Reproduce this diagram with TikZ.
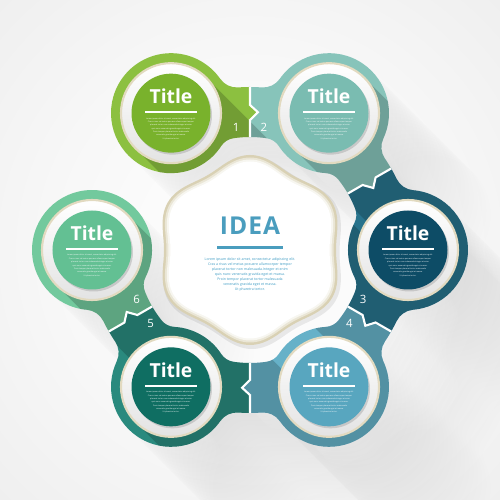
\documentclass[tikz,border=0pt]{standalone}
\usepackage{fontspec}
\setmainfont{Open Sans}
\usetikzlibrary{shadows}

\definecolor{segA}{HTML}{8CC040}
\definecolor{discA}{HTML}{79B22C}
\definecolor{segB}{HTML}{87C4BA}
\definecolor{discB}{HTML}{7ABCB1}
\definecolor{segC}{HTML}{28738C}
\definecolor{discC}{HTML}{0D4C66}
\definecolor{segD}{HTML}{66B1C8}
\definecolor{discD}{HTML}{58A6BF}
\definecolor{segE}{HTML}{2A8A7E}
\definecolor{discE}{HTML}{0F6E62}
\definecolor{segF}{HTML}{72C99D}
\definecolor{discF}{HTML}{63C093}
\definecolor{creamrim}{HTML}{E2DAC0}
\definecolor{blobrim}{HTML}{D9D1B4}
\definecolor{ideablue}{HTML}{4A9DBE}
\definecolor{textblue}{HTML}{3F9CC4}

\pgfdeclareradialshading{bgglow}{\pgfpoint{0bp}{0bp}}{color(0bp)=(white); color(20bp)=(white!97!black); color(72bp)=(white!86!black)}

\tikzstyle{ring} = [circle, minimum size=2cm, inner sep=0pt, draw=creamrim, line width=1.2pt, top color=white, bottom color=gray!22]
\tikzstyle{disc} = [circle, minimum size=1.58cm, inner sep=0pt, drop shadow={opacity=0.3, shadow xshift=0.03cm, shadow yshift=-0.04cm}]
\tikzstyle{titletext} = [text=white, font=\fontsize{11}{13}\selectfont\bfseries, inner sep=0pt]
\tikzstyle{titlerule} = [white, line width=0.8pt]
\tikzstyle{smalltext} = [text=white, align=center, font=\fontsize{1.1}{1.9}\selectfont, inner sep=0pt]
\tikzstyle{numtext} = [text=white, font=\fontsize{6.5}{7}\selectfont, inner sep=0pt]
\tikzstyle{gapline} = [white, line width=1.2pt]
\tikzstyle{longshadow} = [black, opacity=0.18]

% one coloured piece: circle at angle #1, arms to the two neighbours
\newcommand{\segpath}[1]{%
  ({#1+30}:3.26) arc[start angle=#1+30, end angle=#1+25.83, radius=3.26]
  arc[start angle=#1+205.83, end angle=#1+265.17, radius=0.4]
  arc[start angle=#1+85.17, end angle=#1-85.17, radius=1.2]
  arc[start angle=#1+94.83, end angle=#1+154.17, radius=0.4]
  arc[start angle=#1-25.83, end angle=#1-30, radius=3.26]
  -- ({#1-30}:2.9) -- ({#1-33.3}:2.76) -- ({#1-30}:2.6) -- ({#1-30}:2.26)
  arc[start angle=#1-30, end angle=#1-21.51, radius=2.26]
  arc[start angle=#1-21.51, end angle=#1+26.86, radius=0.35]
  arc[start angle=#1+206.86, end angle=#1+153.14, radius=1.2]
  arc[start angle=#1-26.86, end angle=#1+21.51, radius=0.35]
  arc[start angle=#1+21.51, end angle=#1+30, radius=2.26]
  -- ({#1+30}:2.6) -- ({#1+26.7}:2.76) -- ({#1+30}:2.9) -- cycle}
% first piece: only the clockwise arm
\newcommand{\segfirst}[1]{%
  ({#1-20.14}:3.4734)
  arc[start angle=#1+94.83, end angle=#1+154.17, radius=0.4]
  arc[start angle=#1-25.83, end angle=#1-30, radius=3.26]
  -- ({#1-30}:2.9) -- ({#1-33.3}:2.76) -- ({#1-30}:2.6) -- ({#1-30}:2.26)
  arc[start angle=#1-30, end angle=#1-21.51, radius=2.26]
  arc[start angle=#1-21.51, end angle=#1+26.86, radius=0.35]
  arc[start angle=#1+206.86, end angle=#1-85.17, radius=1.2] -- cycle}
% last piece: only the arm back to the piece before
\newcommand{\seglast}[1]{%
  ({#1+30}:3.26) arc[start angle=#1+30, end angle=#1+25.83, radius=3.26]
  arc[start angle=#1+205.83, end angle=#1+265.17, radius=0.4]
  arc[start angle=#1+85.17, end angle=#1-206.86, radius=1.2]
  arc[start angle=#1-26.86, end angle=#1+21.51, radius=0.35]
  arc[start angle=#1+21.51, end angle=#1+30, radius=2.26]
  -- ({#1+30}:2.6) -- ({#1+26.7}:2.76) -- ({#1+30}:2.9) -- cycle}
\newcommand{\allsegs}{\segfirst{120} \segpath{60} \segpath{0} \segpath{-60} \segpath{-120} \seglast{180}}
\newcommand{\gap}[1]{\draw[gapline] ({#1}:3.26) -- ({#1}:2.9) -- ({#1-3.3}:2.76) -- ({#1}:2.6) -- ({#1}:2.26);}
\newcommand{\blob}[1]{plot[domain=0:360, samples=181] (\x:{#1+0.09*cos(6*(\x-30))}) -- cycle}
\newcommand{\loremlines}{Lorem ipsum dolor sit amet, consectetur adipiscing elit.\\ Cras a risus vel metus posuere ullamcorper tempor\\ placerat tortor non malesuada.Integer et enim\\ quis nunc venenatis gravida eget et massa.\\ Proin tempor placerat tortor  malesuada\\ venenatis gravida eget et massa.\\ Ut pharetra tortor.}
\newcommand{\stage}[3]{%
  \node[ring] (ring#1) at (#2:3.16) {};
  \node[disc, fill=#3] (disc#1) at (ring#1) {};
  \node[titletext] (title#1) at ([yshift=0.33cm]disc#1.center) {Title};
  \draw[titlerule] ([xshift=-0.52cm,yshift=0.02cm]disc#1.center) -- ([xshift=0.52cm,yshift=0.02cm]disc#1.center);
  \node[smalltext] (body#1) at ([yshift=-0.31cm]disc#1.center) {\loremlines};}

\begin{document}
\begin{tikzpicture}
        \useasboundingbox (-5,-5) rectangle (5,5);
        \shade[shading=bgglow] (-5,-5) rectangle (5,5);

        % long shadow on the background
        \foreach \s in {1,...,24}
          \fill[black, opacity=0.003, shift={(-45:{\s*0.12})}] \allsegs;

        % Pieces
        \fill[segA] \segfirst{120};
        \fill[segB] \segpath{60};
        \fill[segC] \segpath{0};
        \fill[segD] \segpath{-60};
        \fill[segE] \segpath{-120};
        \fill[segF] \seglast{180};

        \begin{scope}
          \clip \allsegs;
          \fill[longshadow] (120:3.16) ++(45:1) -- ++(-45:10) -- ++(225:2) -- ++(135:10) -- cycle
            (60:3.16) ++(45:1) -- ++(-45:10) -- ++(225:2) -- ++(135:10) -- cycle
            (0:3.16) ++(45:1) -- ++(-45:10) -- ++(225:2) -- ++(135:10) -- cycle
            (-60:3.16) ++(45:1) -- ++(-45:10) -- ++(225:2) -- ++(135:10) -- cycle
            (-120:3.16) ++(45:1) -- ++(-45:10) -- ++(225:2) -- ++(135:10) -- cycle
            (180:3.16) ++(45:1) -- ++(-45:10) -- ++(225:2) -- ++(135:10) -- cycle;
        \end{scope}

        % Arrow cuts - white
        \gap{90}
        \gap{30}
        \gap{-30}
        \gap{-90}
        \gap{-150}

        % centre shape
        \fill[black, opacity=0.08, shift={(0.04,-0.05)}] \blob{1.84};
        \fill[blobrim] \blob{1.81};
        \fill[blobrim!55!white] \blob{1.76};
        \fill[blobrim!20!white] \blob{1.72};
        \fill[white] \blob{1.68};

        \stage{1}{120}{discA}
        \stage{2}{60}{discB}
        \stage{3}{0}{discC}
        \stage{4}{-60}{discD}
        \stage{5}{-120}{discE}
        \stage{6}{180}{discF}

        \node[numtext] (num1) at (96.5:2.47) {1};
        \node[numtext] (num2) at (83.5:2.47) {2};
        \node[numtext] (num3) at (-23.5:2.47) {3};
        \node[numtext] (num4) at (-36.5:2.47) {4};
        \node[numtext] (num5) at (216.5:2.47) {5};
        \node[numtext] (num6) at (203.5:2.47) {6};

        \node[text=ideablue, font=\fontsize{14}{17}\selectfont\bfseries\addfontfeatures{LetterSpace=4}, inner sep=0pt] (idea) at (0,0.48) {IDEA};
        \draw[ideablue, line width=1.2pt] ([xshift=-0.66cm]idea.south |- 0,0.05) -- ([xshift=0.66cm]idea.south |- 0,0.05);
        \node[text=textblue, align=center, font=\fontsize{2}{2.85}\selectfont, inner sep=0pt] (ideabody) at (0,-0.5) {\loremlines};
\end{tikzpicture}
\end{document}
